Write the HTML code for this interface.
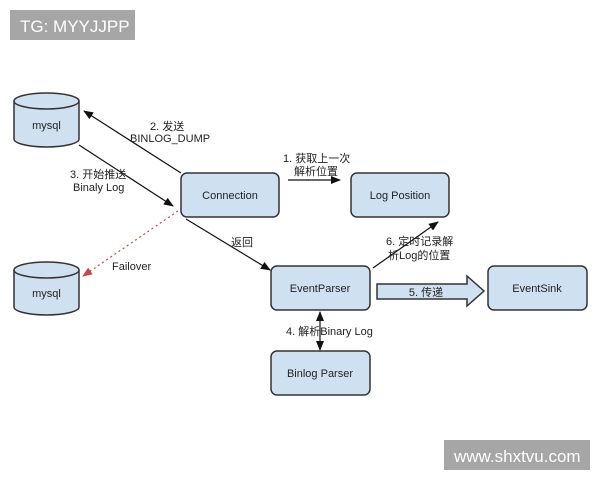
<!DOCTYPE html>
<html><head><meta charset="utf-8"><style>
html,body{margin:0;padding:0;background:#fff}
svg{display:block}
text{font-family:"Liberation Sans","Noto Sans CJK SC",sans-serif;fill:#222}
</style></head><body>
<svg width="600" height="480" viewBox="0 0 600 480">
<defs>
<marker id="a" markerWidth="10" markerHeight="8" refX="9" refY="4" orient="auto-start-reverse" markerUnits="userSpaceOnUse"><path d="M0,0 L10,4 L0,8 Z" fill="#111"/></marker>
<marker id="r" markerWidth="10" markerHeight="8" refX="9" refY="4" orient="auto" markerUnits="userSpaceOnUse"><path d="M0,0 L10,4 L0,8 Z" fill="#c44"/></marker>
</defs>
<rect x="10" y="10" width="125" height="30" fill="#a6a6a6"/>
<text x="20" y="32" font-size="17" style="fill:#fff">TG: MYYJJPP</text>
<rect x="444" y="440" width="146" height="30" fill="#a6a6a6"/>
<text x="454" y="462" font-size="17" style="fill:#fff">www.shxtvu.com</text>

<g fill="#cfe0f0" stroke="#333" stroke-width="1.5">
<path d="M14,101 V139 A32.5,8 0 0 0 79,139 V101"/>
<ellipse cx="46.5" cy="101" rx="32.5" ry="8"/>
<path d="M14,270 V307 A32.5,8 0 0 0 79,307 V270"/>
<ellipse cx="46.5" cy="270" rx="32.5" ry="8"/>
<rect x="181" y="173" width="98" height="44" rx="6"/>
<rect x="351" y="173" width="98" height="44" rx="6"/>
<rect x="271" y="266" width="99" height="44" rx="6"/>
<rect x="488" y="266" width="99" height="44" rx="6"/>
<rect x="271" y="351" width="99" height="44" rx="6"/>
<path d="M377,284 H467 V276 L484,291 L467,306 V299 H377 Z"/>
</g>
<g font-size="11" text-anchor="middle">
<text x="46.5" y="129">mysql</text>
<text x="46.5" y="297">mysql</text>
<text x="230" y="199">Connection</text>
<text x="400" y="199">Log Position</text>
<text x="320" y="292">EventParser</text>
<text x="537" y="292">EventSink</text>
<text x="320" y="377">Binlog Parser</text>
<text x="426" y="296">5. 传递</text>
</g>
<g stroke="#111" stroke-width="1.2" fill="none">
<line x1="181" y1="173" x2="84" y2="111" marker-end="url(#a)"/>
<line x1="79" y1="145" x2="173" y2="206" marker-end="url(#a)"/>
<line x1="186" y1="219" x2="270" y2="270" marker-end="url(#a)"/>
<line x1="288" y1="180" x2="340" y2="180" marker-end="url(#a)"/>
<line x1="373" y1="268" x2="438" y2="222" marker-end="url(#a)"/>
<line x1="320" y1="312" x2="320" y2="350" marker-start="url(#a)" marker-end="url(#a)"/>
<line x1="178" y1="211" x2="83" y2="276" stroke="#c44" stroke-dasharray="2,3" marker-end="url(#r)"/>
</g>
<g font-size="11">
<text x="150" y="130">2. 发送</text>
<text x="130" y="142">BINLOG_DUMP</text>
<text x="70" y="178">3. 开始推送</text>
<text x="73" y="191">Binaly Log</text>
<text x="283" y="162">1. 获取上一次</text>
<text x="294" y="175">解析位置</text>
<text x="231" y="246">返回</text>
<text x="112" y="270">Failover</text>
<text x="386" y="245">6. 定时记录解</text>
<text x="388" y="259">析Log的位置</text>
<text x="286" y="335">4. 解析Binary Log</text>
</g>
</svg>
</body></html>
